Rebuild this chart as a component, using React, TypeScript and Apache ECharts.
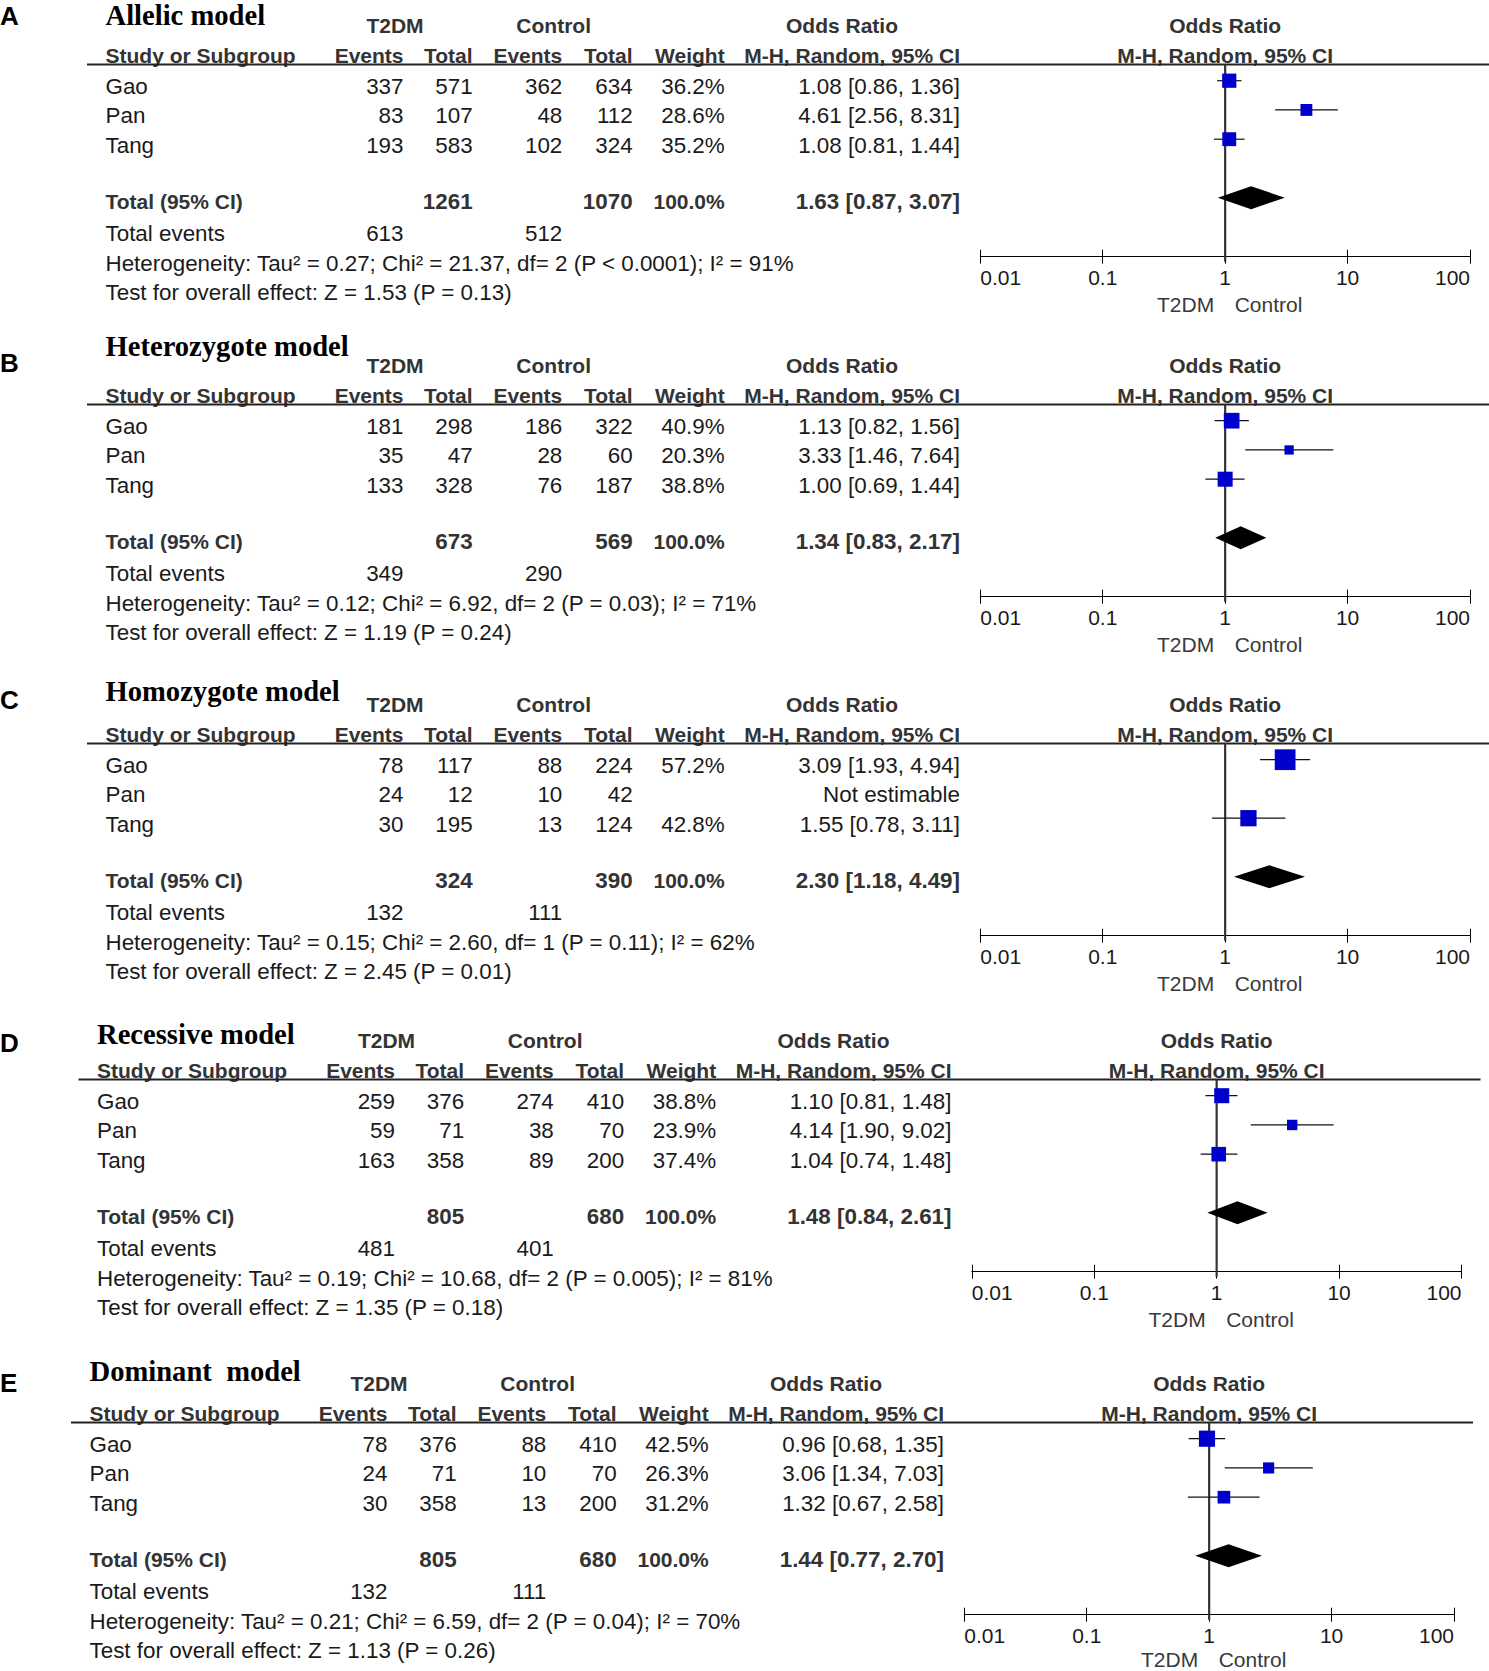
import React, { useEffect, useRef } from 'react';
import * as echarts from 'echarts';

const W = 1489;
const H = 1671;

// ---------- data ----------
const LETTERS = ['A', 'B', 'C', 'D', 'E'];
const MODELS = ['Allelic model', 'Heterozygote model', 'Homozygote model', 'Recessive model', 'Dominant  model'];
const STUDIES = ['Gao', 'Pan', 'Tang'];
const TICK_LABELS = ['0.01', '0.1', '1', '10', '100'];

const T2DM_EVENTS = [[337, 83, 193], [181, 35, 133], [78, 24, 30], [259, 59, 163], [78, 24, 30]];
const T2DM_TOTAL = [[571, 107, 583], [298, 47, 328], [117, 12, 195], [376, 71, 358], [376, 71, 358]];
const CTRL_EVENTS = [[362, 48, 102], [186, 28, 76], [88, 10, 13], [274, 38, 89], [88, 10, 13]];
const CTRL_TOTAL = [[634, 112, 324], [322, 60, 187], [224, 42, 124], [410, 70, 200], [410, 70, 200]];
const WEIGHTS: (number | null)[][] = [[36.2, 28.6, 35.2], [40.9, 20.3, 38.8], [57.2, null, 42.8], [38.8, 23.9, 37.4], [42.5, 26.3, 31.2]];
const OR: (number | null)[][] = [[1.08, 4.61, 1.08], [1.13, 3.33, 1.0], [3.09, null, 1.55], [1.1, 4.14, 1.04], [0.96, 3.06, 1.32]];
const OR_LO: (number | null)[][] = [[0.86, 2.56, 0.81], [0.82, 1.46, 0.69], [1.93, null, 0.78], [0.81, 1.9, 0.74], [0.68, 1.34, 0.67]];
const OR_HI: (number | null)[][] = [[1.36, 8.31, 1.44], [1.56, 7.64, 1.44], [4.94, null, 3.11], [1.48, 9.02, 1.48], [1.35, 7.03, 2.58]];
const TOTAL_T2DM = [1261, 673, 324, 805, 805];
const TOTAL_CTRL = [1070, 569, 390, 680, 680];
const POOLED_OR = [1.63, 1.34, 2.3, 1.48, 1.44];
const POOLED_LO = [0.87, 0.83, 1.18, 0.84, 0.77];
const POOLED_HI = [3.07, 2.17, 4.49, 2.61, 2.7];
const EVENTS_T2DM = [613, 349, 132, 481, 132];
const EVENTS_CTRL = [512, 290, 111, 401, 111];
const HETEROGENEITY = [
  'Heterogeneity: Tau\u00b2 = 0.27; Chi\u00b2 = 21.37, df= 2 (P < 0.0001); I\u00b2 = 91%',
  'Heterogeneity: Tau\u00b2 = 0.12; Chi\u00b2 = 6.92, df= 2 (P = 0.03); I\u00b2 = 71%',
  'Heterogeneity: Tau\u00b2 = 0.15; Chi\u00b2 = 2.60, df= 1 (P = 0.11); I\u00b2 = 62%',
  'Heterogeneity: Tau\u00b2 = 0.19; Chi\u00b2 = 10.68, df= 2 (P = 0.005); I\u00b2 = 81%',
  'Heterogeneity: Tau\u00b2 = 0.21; Chi\u00b2 = 6.59, df= 2 (P = 0.04); I\u00b2 = 70%',
];
const OVERALL = [
  'Test for overall effect: Z = 1.53 (P = 0.13)',
  'Test for overall effect: Z = 1.19 (P = 0.24)',
  'Test for overall effect: Z = 2.45 (P = 0.01)',
  'Test for overall effect: Z = 1.35 (P = 0.18)',
  'Test for overall effect: Z = 1.13 (P = 0.26)',
];

// ---------- layout ----------
const PANEL_TOP = [0, 340, 679, 1015, 1358];
const PANEL_DX = [0, 0, 0, -8.5, -16];
const TITLE_DY = [15, 6.7, 12.7, 19, 13.7];
const LETTER_DY = [16, 23.3, 21, 28.3, 25.3];
const TY = { h1: 25, h2: 55, s: [86, 115.3, 145], total: 201.7, events: 233.3, het: 263.3, test: 292.3 };
const NAME_X = 105.5;
const COL_R = [403.5, 472.6, 562.3, 632.6, 724.7, 960];
const T2DM_C = 395;
const CTRL_C = 553.7;
const OR_HDR_C = 842;
const AXIS_L = 980.3;
const AXIS_R = 1470;
const LINE_L = 87;
const LINE_R = 1489;
const LINE_Y = 64.5;
const AXIS_Y = 256.7;
const PITCH = 29.25;
const ROW0 = 51.45;
const TOTAL_ROW = 5;
const Y_MIN = (LINE_Y - ROW0) / PITCH;
const Y_MAX = (AXIS_Y - ROW0) / PITCH;

const SANS = '"Liberation Sans", Arial, Helvetica, sans-serif';
const SERIF = '"Liberation Serif", "Times New Roman", serif';
const BODY = '#1a1a1a';
const HEAD = '#333333';
const BODY_SIZE = 22.4;

function txt(text: string, x: number, y: number, o: any = {}) {
  const align = o.align || 'left';
  return {
    type: 'text',
    x,
    y,
    silent: true,
    style: {
      text,
      fill: o.fill || BODY,
      fontSize: o.size || BODY_SIZE,
      fontFamily: o.family || SANS,
      fontWeight: o.weight || 'normal',
      align,
      textAlign: align,
      verticalAlign: 'middle',
      textVerticalAlign: 'middle',
    },
  };
}

const fmtCI = (a: number, b: number, c: number) => `${a.toFixed(2)} [${b.toFixed(2)}, ${c.toFixed(2)}]`;

function buildOption() {
  const grids: any[] = [];
  const xAxes: any[] = [];
  const yAxes: any[] = [];
  const series: any[] = [];
  const elements: any[] = [];

  for (let i = 0; i < 5; i++) {
    const top = PANEL_TOP[i];
    const dx = PANEL_DX[i];
    const ty = (v: number) => top + v;
    const cx = (v: number) => v + dx;
    const H1 = { weight: 'bold', size: 21, fill: HEAD };

    // letter and title
    elements.push(txt(LETTERS[i], 0, top + LETTER_DY[i], { weight: 'bold', size: 26, fill: '#000' }));
    elements.push(txt(MODELS[i], cx(NAME_X), top + TITLE_DY[i], { weight: 'bold', size: 28.6, family: SERIF, fill: '#000' }));

    // header row 1
    elements.push(txt('T2DM', cx(T2DM_C), ty(TY.h1), { ...H1, align: 'center' }));
    elements.push(txt('Control', cx(CTRL_C), ty(TY.h1), { ...H1, align: 'center' }));
    elements.push(txt('Odds Ratio', cx(OR_HDR_C), ty(TY.h1), { ...H1, align: 'center' }));
    elements.push(txt('Odds Ratio', cx((AXIS_L + AXIS_R) / 2), ty(TY.h1), { ...H1, align: 'center' }));
    // header row 2
    elements.push(txt('Study or Subgroup', cx(NAME_X), ty(TY.h2), H1));
    const h2 = ['Events', 'Total', 'Events', 'Total', 'Weight', 'M-H, Random, 95% CI'];
    h2.forEach((h, k) => elements.push(txt(h, cx(COL_R[k]), ty(TY.h2), { ...H1, align: 'right' })));
    elements.push(txt('M-H, Random, 95% CI', cx((AXIS_L + AXIS_R) / 2), ty(TY.h2), { ...H1, align: 'center' }));
    // header line
    elements.push({
      type: 'line',
      silent: true,
      shape: { x1: cx(LINE_L), y1: ty(LINE_Y), x2: cx(LINE_R), y2: ty(LINE_Y) },
      style: { stroke: '#222', lineWidth: 2 },
    });

    // study rows
    STUDIES.forEach((s, k) => {
      const y = ty(TY.s[k]);
      elements.push(txt(s, cx(NAME_X), y));
      const vals = [T2DM_EVENTS[i][k], T2DM_TOTAL[i][k], CTRL_EVENTS[i][k], CTRL_TOTAL[i][k]];
      vals.forEach((v, c) => elements.push(txt(String(v), cx(COL_R[c]), y, { align: 'right' })));
      const w = WEIGHTS[i][k];
      if (w != null) elements.push(txt(`${w.toFixed(1)}%`, cx(COL_R[4]), y, { align: 'right' }));
      const o = OR[i][k];
      const l = OR_LO[i][k];
      const h = OR_HI[i][k];
      elements.push(
        txt(o != null && l != null && h != null ? fmtCI(o, l, h) : 'Not estimable', cx(COL_R[5]), y, { align: 'right' })
      );
    });

    // total row
    const B = { weight: 'bold', size: 21, fill: HEAD };
    const BN = { weight: 'bold', size: 22.4, fill: HEAD, align: 'right' };
    elements.push(txt('Total (95% CI)', cx(NAME_X), ty(TY.total), B));
    elements.push(txt(String(TOTAL_T2DM[i]), cx(COL_R[1]), ty(TY.total), BN));
    elements.push(txt(String(TOTAL_CTRL[i]), cx(COL_R[3]), ty(TY.total), BN));
    elements.push(txt('100.0%', cx(COL_R[4]), ty(TY.total), { ...B, align: 'right' }));
    elements.push(txt(fmtCI(POOLED_OR[i], POOLED_LO[i], POOLED_HI[i]), cx(COL_R[5]), ty(TY.total), BN));

    elements.push(txt('Total events', cx(NAME_X), ty(TY.events)));
    elements.push(txt(String(EVENTS_T2DM[i]), cx(COL_R[0]), ty(TY.events), { align: 'right' }));
    elements.push(txt(String(EVENTS_CTRL[i]), cx(COL_R[2]), ty(TY.events), { align: 'right' }));
    elements.push(txt(HETEROGENEITY[i], cx(NAME_X), ty(TY.het)));
    elements.push(txt(OVERALL[i], cx(NAME_X), ty(TY.test)));

    // favours labels
    const mid = cx((AXIS_L + AXIS_R) / 2);
    const favY = Math.min(ty(AXIS_Y + 47.3), H - 12);
    elements.push(txt('T2DM', mid - 11, favY, { size: 21, fill: '#3a3a3a', align: 'right' }));
    elements.push(txt('Control', mid + 9.5, favY, { size: 21, fill: '#3a3a3a', align: 'left' }));

    // plot
    grids.push({
      left: cx(AXIS_L),
      top: ty(LINE_Y),
      width: AXIS_R - AXIS_L,
      height: AXIS_Y - LINE_Y,
      containLabel: false,
      outerBoundsMode: 'none',
      show: false,
    });
    xAxes.push({
      type: 'log',
      logBase: 10,
      min: 0.01,
      max: 100,
      gridIndex: i,
      position: 'bottom',
      offset: 0,
      axisLine: { show: true, onZero: false, lineStyle: { color: '#000', width: 1 } },
      axisTick: { show: true, length: 7, lineStyle: { color: '#000', width: 1 } },
      axisLabel: {
        show: true,
        margin: 10,
        fontSize: 21,
        color: BODY,
        fontFamily: SANS,
        showMinLabel: true,
        showMaxLabel: true,
        alignMinLabel: 'left',
        alignMaxLabel: 'right',
        formatter: (v: number) => TICK_LABELS[Math.round(Math.log10(v)) + 2],
      },
      splitLine: { show: false },
      minorTick: { show: false },
    });
    xAxes.push({
      type: 'log',
      logBase: 10,
      min: 0.01,
      max: 100,
      gridIndex: i,
      position: 'bottom',
      offset: 0,
      axisLine: { show: false, onZero: false },
      axisTick: { show: true, inside: true, length: 7, lineStyle: { color: '#000', width: 1 } },
      axisLabel: { show: false },
      splitLine: { show: false },
    });
    yAxes.push({
      type: 'value',
      gridIndex: i,
      inverse: true,
      min: Y_MIN,
      max: Y_MAX,
      show: false,
      axisLine: { show: false },
      splitLine: { show: false },
    });

    const xi = 2 * i;
    const ciData: number[][] = [];
    const sqData: number[][] = [];
    STUDIES.forEach((_, k) => {
      const o = OR[i][k];
      const l = OR_LO[i][k];
      const h = OR_HI[i][k];
      const w = WEIGHTS[i][k];
      if (o != null && l != null && h != null && w != null) {
        ciData.push([l, h, k + 1]);
        sqData.push([o, k + 1, w]);
      }
    });

    series.push({
      type: 'custom',
      xAxisIndex: xi,
      yAxisIndex: i,
      silent: true,
      z: 1,
      clip: false,
      data: [[1, Y_MIN, Y_MAX]],
      encode: { x: 0, y: [1, 2] },
      renderItem: (_p: any, api: any) => {
        const a = api.coord([api.value(0), api.value(1)]);
        const b = api.coord([api.value(0), api.value(2)]);
        return {
          type: 'line',
          shape: { x1: a[0], y1: a[1], x2: b[0], y2: b[1] + 5 },
          style: { stroke: '#333', lineWidth: 2.2 },
        };
      },
    });
    series.push({
      type: 'custom',
      xAxisIndex: xi,
      yAxisIndex: i,
      silent: true,
      z: 2,
      data: ciData,
      encode: { x: [0, 1], y: 2 },
      renderItem: (_p: any, api: any) => {
        const a = api.coord([api.value(0), api.value(2)]);
        const b = api.coord([api.value(1), api.value(2)]);
        return {
          type: 'line',
          shape: { x1: a[0], y1: a[1], x2: b[0], y2: b[1] },
          style: { stroke: '#111', lineWidth: 1.2 },
        };
      },
    });
    series.push({
      type: 'scatter',
      xAxisIndex: xi,
      yAxisIndex: i,
      silent: true,
      z: 3,
      symbol: 'rect',
      symbolSize: (v: number[]) => 3 + 0.31 * v[2],
      itemStyle: { color: '#0000CC', opacity: 1 },
      data: sqData,
    });
    series.push({
      type: 'custom',
      xAxisIndex: xi,
      yAxisIndex: i,
      silent: true,
      z: 3,
      data: [[POOLED_OR[i], POOLED_LO[i], POOLED_HI[i], TOTAL_ROW]],
      encode: { x: [0, 1, 2], y: 3 },
      renderItem: (_p: any, api: any) => {
        const y = api.value(3);
        const c = api.coord([api.value(0), y]);
        const l = api.coord([api.value(1), y]);
        const r = api.coord([api.value(2), y]);
        const hh = 11.5;
        return {
          type: 'polygon',
          shape: { points: [[l[0], c[1]], [c[0], c[1] - hh], [r[0], c[1]], [c[0], c[1] + hh]] },
          style: { fill: '#000' },
        };
      },
    });
  }

  return {
    animation: false,
    backgroundColor: '#ffffff',
    grid: grids,
    xAxis: xAxes,
    yAxis: yAxes,
    series,
    graphic: { elements },
  };
}

export default function App() {
  const ref = useRef<HTMLDivElement | null>(null);
  useEffect(() => {
    document.body.style.margin = '0';
    if (!ref.current) return;
    const chart = echarts.init(ref.current, undefined, { renderer: 'svg', width: W, height: H });
    chart.setOption(buildOption() as any);
    return () => chart.dispose();
  }, []);
  return <div ref={ref} style={{ width: W, height: H, overflow: 'hidden', background: '#fff' }} />;
}
